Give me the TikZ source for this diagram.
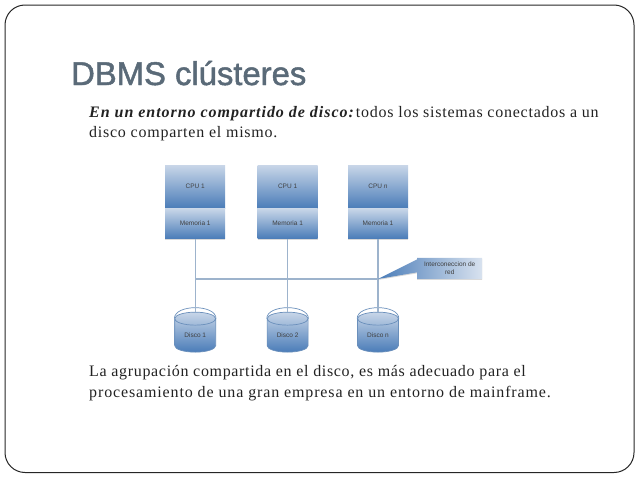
\documentclass[tikz,border=0pt]{standalone}
\usepackage{fontspec}
\setmainfont[LetterSpace=4.7]{Liberation Serif}
\setsansfont{Liberation Sans}
\newfontfamily\titlefont[FakeBold=1.5]{Liberation Sans}
\newfontface\leadfont[LetterSpace=6]{Liberation Serif Bold Italic}
\usetikzlibrary{positioning,shapes.geometric,shapes.callouts,shadows,calc}
\definecolor{titlegray}{HTML}{5A6A78}
\definecolor{boxtop}{HTML}{C8D6E8}
\definecolor{boxbot}{HTML}{4A7CB8}
\definecolor{linkblue}{HTML}{9DB3CC}
\definecolor{bodyink}{HTML}{222222}
\definecolor{diskedge}{HTML}{6A8FBB}
\tikzset{
  softshadow/.style={drop shadow={shadow xshift=0pt,shadow yshift=-1pt,opacity=.3}},
  unit/.style={minimum width=60pt,minimum height=43pt,inner sep=0pt,top color=boxtop,bottom color=boxbot,softshadow,font=\sffamily\fontsize{6.5}{7}\selectfont,text=black!75},
  memunit/.style={unit,minimum height=30pt},
  disk/.style={cylinder,shape border rotate=90,aspect=.6,minimum width=41pt,minimum height=40pt,inner sep=0pt,top color=boxtop,bottom color=boxbot,draw=diskedge,line width=.7pt,font=\sffamily\fontsize{6.5}{7}\selectfont,text=black!75},
  link/.style={draw=linkblue,line width=1.3pt},
  body/.style={font=\fontsize{16}{20.5}\selectfont,text=bodyink,align=left,inner sep=0pt,anchor=north west}
}
\begin{document}
\begin{tikzpicture}[x=1pt,y=-1pt,node distance=30pt]
    \useasboundingbox (0,0) rectangle (638,479);
    \node[draw=black!85,line width=1pt,rounded corners=20pt,minimum width=629pt,minimum height=467.5pt,inner sep=0pt,anchor=north west] (slide) at (4.5,4.5) {};

    \node[anchor=base west,inner sep=0pt,text=titlegray,font=\titlefont\fontsize{32.8}{36}\selectfont] (title) at (71,85) {DBMS clústeres};
    \node[body] (intro) at (89,106) {{\leadfont En un entorno compartido de disco:}\hspace{2pt}todos los sistemas conectados a un\\disco comparten el mismo.};
    \node[body] (outro) at (89,365.5) {\addfontfeature{LetterSpace=4.2}La agrupación compartida en el disco, es más adecuado para el\\\addfontfeature{LetterSpace=5.4}procesamiento de una gran empresa en un entorno de mainframe.};

    % procesadores y memorias
    \node[unit,anchor=north west] (cpu_1) at (165,165) {CPU 1};
    \node[memunit,below=0pt of cpu_1] (mem_1) {Memoria 1};
    \node[unit,right=32pt of cpu_1] (cpu_2) {CPU 1};
    \node[memunit,below=0pt of cpu_2] (mem_2) {Memoria 1};
    \node[unit,right=30pt of cpu_2] (cpu_n) {CPU \textit{n}};
    \node[memunit,below=0pt of cpu_n] (mem_n) {Memoria 1};

    % discos
    \node[disk,below=73pt of mem_1] (disk_1) {Disco 1};
    \node[disk,below=73pt of mem_2] (disk_2) {Disco 2};
    \node[disk,below=73pt of mem_n] (disk_n) {Disco n};
    \foreach \d in {disk_1,disk_2,disk_n}
      \draw[draw=diskedge,line width=.7pt] (\d.before top) to[out=90,in=90,looseness=.9] (\d.after top);

    \path[link] (mem_1) edge (disk_1)
                (mem_2) edge (disk_2)
                (mem_n) edge (disk_n);
    \coordinate (bus_l) at (mem_1.south |- 0,279);
    \coordinate (bus_r) at (mem_n.south |- 0,279);
    \draw[link] (bus_l) -- (bus_r);

    \node[rectangle callout,callout absolute pointer={(bus_r)},callout pointer width=13pt,minimum width=65pt,minimum height=21pt,inner sep=0pt,align=center,left color=boxbot,right color=boxtop!70,softshadow,font=\sffamily\fontsize{6.5}{8}\selectfont,text=black!75,anchor=south west] (note) at (417,279) {Interconeccion de\\red};
\end{tikzpicture}
\end{document}
